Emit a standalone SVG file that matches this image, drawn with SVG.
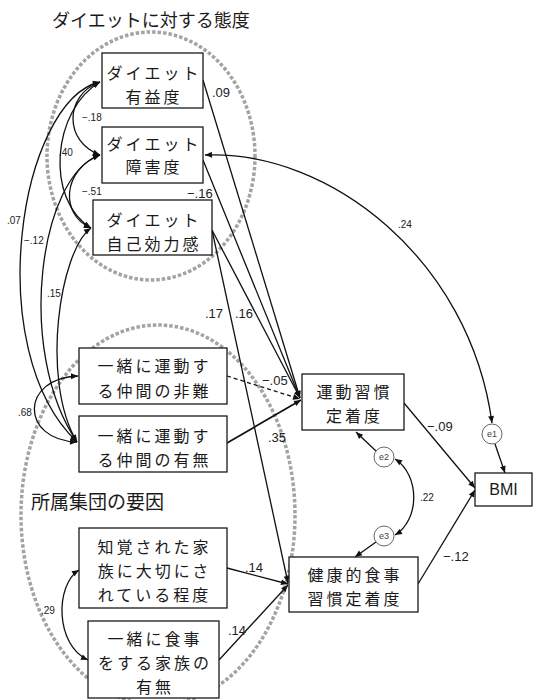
<svg xmlns="http://www.w3.org/2000/svg" width="536" height="700" viewBox="0 0 536 700">
<style>
.bg{fill:#ffffff}
.grp{fill:none;stroke:#a3a3a3;stroke-width:3.5;stroke-dasharray:3.5 2}
.box{fill:#ffffff;stroke:#1a1a1a;stroke-width:1.3}
.jp{font-family:"Noto Sans CJK JP","Noto Sans",sans-serif;font-size:16px;letter-spacing:3px;fill:#1a1a1a;text-anchor:middle}
.ttl{font-family:"Noto Sans CJK JP","Noto Sans",sans-serif;font-size:18px;fill:#1a1a1a}
.ln{fill:none;stroke:#111111;stroke-width:1.3}
.dash{stroke-dasharray:4 3}
.s{font-family:"Liberation Sans",Arial,sans-serif;font-size:10px;fill:#222}
.m{font-family:"Liberation Sans",Arial,sans-serif;font-size:13px;fill:#222}
.err{fill:#ffffff;stroke:#666;stroke-width:1}
.et{font-family:"Liberation Sans",Arial,sans-serif;font-size:9px;fill:#444;text-anchor:middle}
.bmi{font-family:"Liberation Sans",Arial,sans-serif;font-size:16px;fill:#1a1a1a;text-anchor:middle}
</style>
<defs>
<marker id="arr" viewBox="0 0 10 10" refX="10" refY="5" markerWidth="8" markerHeight="7" orient="auto-start-reverse" markerUnits="userSpaceOnUse">
<path d="M0,0.8 L10,5 L0,9.2 z" fill="#111"/>
</marker>
</defs>
<rect class="bg" x="0" y="0" width="536" height="700"/>

<g id="groups">
<ellipse class="grp" cx="151" cy="156" rx="104" ry="124"/>
<ellipse class="grp" cx="158" cy="515" rx="137" ry="190"/>
<text class="ttl" x="52" y="27">ダイエットに対する態度</text>
<text class="ttl" x="31" y="509" style="font-size:19px">所属集団の要因</text>
</g>

<g id="connectors">
<path class="ln" d="M100,82 C64,95 64,142 100,155" marker-start="url(#arr)" marker-end="url(#arr)"/>
<path class="ln" d="M100,82 C52,110 45,200 91,228" marker-start="url(#arr)" marker-end="url(#arr)"/>
<path class="ln" d="M100,155 C62,170 60,215 91,228" marker-start="url(#arr)" marker-end="url(#arr)"/>
<path class="ln" d="M100,82 C20,100 -20,350 77,442" marker-start="url(#arr)" marker-end="url(#arr)"/>
<path class="ln" d="M100,155 C40,175 15,350 77,442" marker-start="url(#arr)" marker-end="url(#arr)"/>
<path class="ln" d="M91,228 C60,250 40,380 77,442" marker-start="url(#arr)" marker-end="url(#arr)"/>
<path class="ln" d="M78,376 C20,378 20,440 77,442" marker-start="url(#arr)" marker-end="url(#arr)"/>
<path class="ln" d="M79,570 C55,585 55,645 88,660" marker-start="url(#arr)" marker-end="url(#arr)"/>
<path class="ln" d="M395,459 C420,475 420,520 395,535" marker-start="url(#arr)" marker-end="url(#arr)"/>
<path class="ln" d="M205,155 C330,150 470,260 492,423" marker-start="url(#arr)" marker-end="url(#arr)"/>

<path class="ln" d="M203,80 L300,398" marker-end="url(#arr)"/>
<path class="ln" d="M203,160 L300,398" marker-end="url(#arr)"/>
<path class="ln" d="M212,230 L300,398" marker-end="url(#arr)"/>
<path class="ln" d="M212,230 L288,583" marker-end="url(#arr)"/>
<path class="ln dash" d="M227,376 L300,399" marker-end="url(#arr)"/>
<path class="ln" d="M227,443 L301,400" marker-end="url(#arr)" style="stroke-width:1.7"/>
<path class="ln" d="M227,568 L288,584" marker-end="url(#arr)"/>
<path class="ln" d="M219,660 L288,585" marker-end="url(#arr)"/>
<path class="ln" d="M404,403 L475,488" marker-end="url(#arr)"/>
<path class="ln" d="M418,584 L475,490" marker-end="url(#arr)"/>
<path class="ln" d="M495,444 L505,473" marker-end="url(#arr)"/>
<path class="ln" d="M376,451 L356,432" marker-end="url(#arr)"/>
<path class="ln" d="M376,542 L355,557" marker-end="url(#arr)"/>
</g>

<g id="n-yueki">
<rect class="box" x="102" y="53" width="101" height="55"/>
<text class="jp" x="154" y="78.5">ダイエット</text>
<text class="jp" x="154" y="102.5">有益度</text>
</g>
<g id="n-shogai">
<rect class="box" x="102" y="127" width="101" height="56"/>
<text class="jp" x="154" y="149.5">ダイエット</text>
<text class="jp" x="154" y="173">障害度</text>
</g>
<g id="n-jiko">
<rect class="box" x="93" y="200" width="119" height="55"/>
<text class="jp" x="154" y="226">ダイエット</text>
<text class="jp" x="154" y="250">自己効力感</text>
</g>
<g id="n-hinan">
<rect class="box" x="79" y="348" width="148" height="56"/>
<text class="jp" x="154.5" y="372">一緒に運動す</text>
<text class="jp" x="154.5" y="397">る仲間の非難</text>
</g>
<g id="n-umu">
<rect class="box" x="79" y="416" width="148" height="56"/>
<text class="jp" x="154.5" y="441.5">一緒に運動す</text>
<text class="jp" x="154.5" y="465.5">る仲間の有無</text>
</g>
<g id="n-kazoku">
<rect class="box" x="79" y="528" width="148" height="80"/>
<text class="jp" x="154.5" y="553">知覚された家</text>
<text class="jp" x="154.5" y="577">族に大切にさ</text>
<text class="jp" x="154.5" y="601">れている程度</text>
</g>
<g id="n-shokuji">
<rect class="box" x="88" y="621" width="131" height="77"/>
<text class="jp" x="155" y="645">一緒に食事</text>
<text class="jp" x="155" y="669">をする家族の</text>
<text class="jp" x="155" y="693">有無</text>
</g>
<g id="n-undo">
<rect class="box" x="302" y="374" width="102" height="56"/>
<text class="jp" x="354.5" y="398">運動習慣</text>
<text class="jp" x="354.5" y="422">定着度</text>
</g>
<g id="n-kenko">
<rect class="box" x="289" y="557" width="129" height="55"/>
<text class="jp" x="355" y="581">健康的食事</text>
<text class="jp" x="355" y="605">習慣定着度</text>
</g>
<g id="n-bmi">
<rect class="box" x="475" y="473" width="57" height="33"/>
<text class="bmi" x="503.5" y="495">BMI</text>
</g>
<g id="n-e1">
<circle class="err" cx="492" cy="434" r="10"/>
<text class="et" x="492" y="437">e1</text>
</g>
<g id="n-e2">
<circle class="err" cx="384" cy="457" r="10"/>
<text class="et" x="384" y="460">e2</text>
</g>
<g id="n-e3">
<circle class="err" cx="384" cy="536" r="10"/>
<text class="et" x="384" y="539">e3</text>
</g>

<g id="labels">
<text class="m" x="212" y="97">.09</text>
<text class="s" x="82" y="121">−.18</text>
<text class="s" x="59" y="156">.40</text>
<text class="s" x="82" y="195">−.51</text>
<text class="m" x="187" y="198">−.16</text>
<text class="s" x="7" y="224">.07</text>
<text class="s" x="24" y="244">−.12</text>
<text class="s" x="47" y="297">.15</text>
<text class="m" x="205" y="318">.17</text>
<text class="m" x="235" y="318">.16</text>
<text class="s" x="18" y="416">.68</text>
<text class="m" x="262" y="385">−.05</text>
<text class="m" x="268" y="442">.35</text>
<text class="m" x="427" y="431">−.09</text>
<text class="s" x="398" y="228">.24</text>
<text class="s" x="420" y="501">.22</text>
<text class="m" x="443" y="561">−.12</text>
<text class="m" x="245" y="572">.14</text>
<text class="m" x="228" y="635">.14</text>
<text class="s" x="41" y="614">.29</text>
</g>
</svg>
